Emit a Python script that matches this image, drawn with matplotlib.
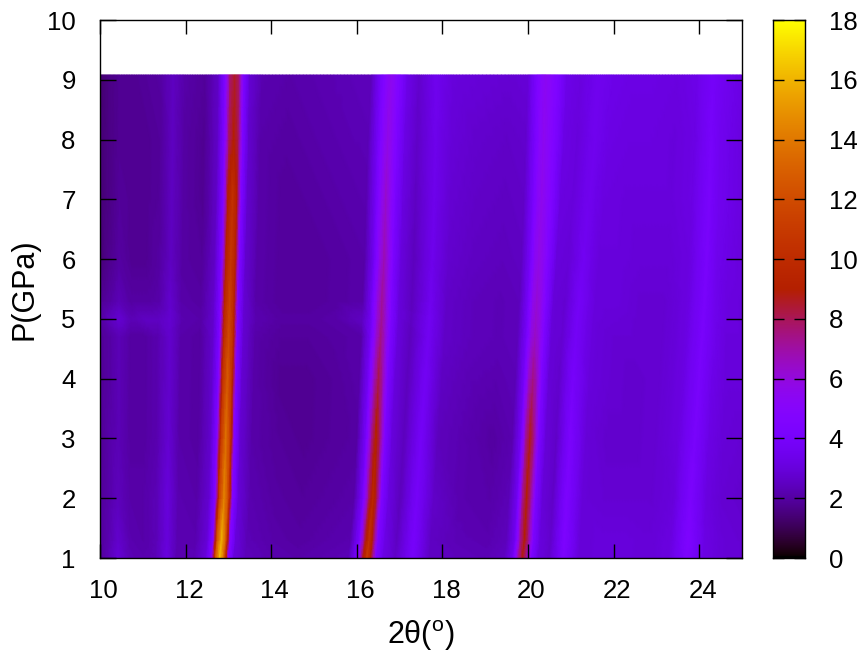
import numpy as np
import matplotlib
matplotlib.use("Agg")
import matplotlib.pyplot as plt
import matplotlib.tri as mtri
from matplotlib.transforms import ScaledTranslation

plt.rcParams["font.family"] = ["Liberation Sans", "DejaVu Sans"]
plt.rcParams["mathtext.default"] = "regular"

# pressure rows
pressure = [1.0, 1.3, 2.0, 3.0, 4.0, 4.7, 5.0, 5.3, 6.0, 7.0, 8.0, 9.08]

# positions of the ridges at each pressure row
edge_lo = [10.0] * 12
ridge_a = [11.56, 11.57, 11.58, 11.60, 11.62, 11.63, 11.64, 11.64, 11.66, 11.68, 11.70, 11.71]
peak_1 = [12.80, 12.84, 12.90, 12.94, 12.98, 13.01, 13.02, 13.03, 13.06, 13.10, 13.13, 13.15]
peak_2 = [16.24, 16.29, 16.38, 16.45, 16.51, 16.56, 16.58, 16.59, 16.64, 16.68, 16.73, 16.81]
ridge_b = [17.30, 17.33, 17.40, 17.50, 17.60, 17.67, 17.70, 17.72, 17.76, 17.80, 17.83, 17.85]
peak_3 = [19.87, 19.92, 19.97, 20.05, 20.12, 20.17, 20.19, 20.21, 20.26, 20.32, 20.37, 20.42]
ridge_c = [20.82, 20.85, 20.90, 20.98, 21.05, 21.12, 21.15, 21.20, 21.30, 21.42, 21.55, 21.65]
ridge_d = [23.70, 23.74, 23.80, 23.90, 24.00, 24.07, 24.09, 24.12, 24.17, 24.23, 24.28, 24.32]
edge_hi = [25.0] * 12

# 2theta of each column in the 1 GPa row
theta_1gpa = [10.0, 10.2, 10.42, 10.7, 11.0, 11.3, 11.56, 11.8, 12.2,
              12.47, 12.6, 12.70, 12.80, 12.90, 13.0, 13.13, 13.4,
              14.0, 14.6, 15.2, 15.8,
              16.0, 16.14, 16.24, 16.34, 16.46, 16.62, 16.9,
              17.3, 17.7, 18.3, 19.0, 19.45,
              19.65, 19.77, 19.87, 19.97, 20.09, 20.25,
              20.5, 20.82, 21.2, 21.7, 22.2, 22.8, 23.3, 23.7, 24.1, 24.5, 25.0]

# intensity along each pressure row
z_100 = [1.9, 2.3, 2.9, 2.3, 2.2, 2.3, 3.1, 2.2, 2.3, 3.0, 4.6, 12.5, 16.5, 13.0, 4.8, 3.0, 2.4, 2.2, 2.1, 2.2, 2.3,
         4.0, 8.5, 11.0, 8.5, 4.3, 3.2, 2.6, 4.0, 2.5, 2.4, 2.3, 2.5, 3.6, 7.0, 8.8, 7.0, 4.2, 3.0, 2.7, 4.3, 2.9, 3.0, 3.0, 2.9, 3.1, 4.3, 3.2, 2.9, 2.8]
z_130 = [1.9, 2.2, 2.7, 2.2, 2.1, 2.3, 3.0, 2.2, 2.2, 2.9, 4.6, 12.5, 16.0, 12.8, 4.8, 3.0, 2.3, 2.1, 2.0, 2.1, 2.2,
         4.0, 8.2, 10.5, 8.2, 4.3, 3.2, 2.5, 4.0, 2.5, 2.3, 2.2, 2.4, 3.6, 7.2, 9.0, 7.2, 4.2, 3.0, 2.7, 4.4, 2.9, 3.0, 3.0, 2.9, 3.1, 4.4, 3.2, 2.9, 2.8]
z_200 = [1.9, 2.1, 2.4, 2.1, 2.1, 2.3, 3.0, 2.2, 2.1, 2.8, 4.5, 11.5, 14.5, 11.8, 4.6, 2.9, 2.2, 2.0, 1.9, 2.0, 2.1,
         3.9, 7.8, 9.8, 7.8, 4.3, 3.1, 2.4, 3.9, 2.6, 2.2, 2.1, 2.3, 3.6, 7.2, 9.0, 7.2, 4.2, 2.9, 2.6, 4.3, 2.9, 2.8, 2.8, 2.8, 3.0, 4.2, 3.1, 2.8, 2.7]
z_300 = [1.8, 2.1, 2.3, 2.0, 2.0, 2.2, 2.8, 2.1, 2.0, 2.7, 4.4, 11.0, 13.8, 11.2, 4.5, 2.8, 2.1, 1.9, 1.8, 1.9, 2.0,
         3.8, 7.4, 9.3, 7.5, 4.3, 3.0, 2.4, 3.8, 2.4, 2.2, 2.0, 2.2, 3.7, 7.2, 8.8, 7.2, 4.2, 2.9, 2.6, 4.2, 2.9, 2.7, 2.7, 2.8, 3.1, 4.1, 3.2, 2.9, 2.8]
z_400 = [1.8, 2.0, 2.3, 2.0, 2.0, 2.2, 2.7, 2.1, 2.0, 2.7, 4.3, 10.4, 12.8, 10.4, 4.4, 2.8, 2.1, 1.8, 1.8, 1.9, 2.1,
         3.7, 6.6, 8.2, 6.7, 4.2, 3.0, 2.4, 3.7, 2.5, 2.3, 2.2, 2.3, 3.8, 6.4, 7.5, 6.4, 4.2, 2.9, 2.7, 4.0, 3.0, 2.8, 2.7, 2.8, 3.1, 4.1, 3.3, 3.0, 3.0]
z_470 = [1.8, 2.0, 2.3, 2.0, 2.0, 2.2, 2.7, 2.1, 2.0, 2.7, 4.3, 10.0, 12.0, 10.0, 4.3, 2.8, 2.1, 1.9, 1.9, 2.0, 2.1,
         3.6, 6.2, 7.5, 6.2, 4.2, 3.0, 2.4, 3.6, 2.6, 2.4, 2.3, 2.4, 3.8, 5.8, 6.5, 5.8, 4.2, 2.9, 2.8, 3.8, 3.0, 2.8, 2.8, 2.8, 3.1, 4.1, 3.4, 3.0, 3.0]
z_500 = [2.0, 2.4, 2.8, 2.3, 2.5, 2.5, 2.8, 2.2, 2.1, 2.7, 4.3, 9.8, 11.8, 9.8, 4.3, 2.8, 2.2, 2.0, 2.0, 2.1, 2.5,
         3.6, 6.1, 7.3, 6.1, 4.2, 3.0, 2.5, 3.6, 2.6, 2.4, 2.3, 2.4, 3.8, 5.7, 6.3, 5.7, 4.2, 2.9, 2.8, 3.8, 3.0, 2.9, 2.8, 2.8, 3.1, 4.1, 3.4, 3.1, 3.0]
z_530 = [1.8, 2.0, 2.3, 2.0, 2.0, 2.1, 2.7, 2.1, 2.0, 2.7, 4.3, 9.6, 11.5, 9.6, 4.3, 2.8, 2.1, 1.9, 1.9, 2.0, 2.1,
         3.6, 6.0, 7.2, 6.0, 4.2, 3.0, 2.4, 3.5, 2.6, 2.4, 2.3, 2.4, 3.8, 5.6, 6.2, 5.6, 4.2, 2.9, 2.8, 3.8, 3.0, 3.0, 2.8, 2.8, 3.1, 4.1, 3.4, 3.1, 3.0]
z_600 = [1.4, 1.7, 2.0, 1.8, 1.8, 2.0, 2.5, 2.0, 1.9, 2.6, 4.3, 9.2, 10.8, 9.3, 4.3, 2.7, 2.1, 1.9, 1.9, 2.0, 2.1,
         3.5, 5.7, 6.8, 5.7, 4.1, 3.0, 2.4, 3.4, 2.7, 2.5, 2.4, 2.5, 3.8, 5.3, 5.8, 5.3, 4.2, 3.0, 2.9, 3.6, 3.0, 3.0, 2.9, 2.9, 3.1, 4.1, 3.4, 3.2, 3.0]
z_700 = [1.4, 1.6, 1.9, 1.8, 1.8, 1.9, 2.5, 2.0, 1.8, 2.6, 4.3, 8.9, 10.5, 9.0, 4.3, 2.7, 2.1, 1.9, 2.0, 2.1, 2.2,
         3.6, 5.4, 6.4, 5.4, 4.1, 3.1, 2.5, 3.4, 2.8, 2.6, 2.5, 2.6, 3.9, 5.1, 5.6, 5.1, 4.3, 3.1, 3.0, 3.5, 3.1, 3.0, 3.0, 3.0, 3.2, 4.1, 3.5, 3.3, 3.1]
z_800 = [1.4, 1.6, 1.8, 1.8, 1.8, 1.9, 2.5, 2.0, 1.8, 2.6, 4.3, 7.9, 9.0, 8.0, 4.3, 2.7, 2.1, 2.0, 2.1, 2.2, 2.3,
         3.7, 5.1, 5.8, 5.2, 4.2, 3.2, 2.6, 3.4, 2.9, 2.7, 2.6, 2.7, 4.0, 5.0, 5.5, 5.0, 4.3, 3.2, 3.0, 3.5, 3.2, 3.1, 3.1, 3.0, 3.2, 4.0, 3.5, 3.3, 3.1]
z_910 = [1.3, 1.6, 1.8, 1.8, 1.9, 2.0, 2.5, 2.1, 1.9, 2.6, 4.3, 7.6, 8.6, 7.6, 4.3, 2.8, 2.2, 2.1, 2.2, 2.3, 2.4,
         3.9, 5.0, 5.5, 5.0, 4.3, 3.3, 2.7, 3.5, 3.0, 2.9, 2.8, 2.9, 4.2, 5.0, 5.4, 5.0, 4.4, 3.3, 3.1, 3.5, 3.3, 3.2, 3.2, 3.1, 3.3, 3.9, 3.6, 3.4, 3.2]

xticks = [10, 12, 14, 16, 18, 20, 22, 24]
yticks = [1, 2, 3, 4, 5, 6, 7, 8, 9, 10]
cticks = [0, 2, 4, 6, 8, 10, 12, 14, 16, 18]

z = np.array([z_100, z_130, z_200, z_300, z_400, z_470, z_500, z_530, z_600, z_700, z_800, z_910])
anchors = np.array([edge_lo, ridge_a, peak_1, peak_2, ridge_b, peak_3, ridge_c, ridge_d, edge_hi])

# columns follow the ridges as they drift with pressure
xs = np.array([np.interp(theta_1gpa, anchors[:, 0], anchors[:, i]) for i in range(len(pressure))])
ys = np.repeat(np.array(pressure)[:, None], len(theta_1gpa), axis=1)

nrow, ncol = z.shape
tris = []
for r in range(nrow - 1):
    for c in range(ncol - 1):
        a = r * ncol + c
        tris.append([a, a + 1, a + ncol])
        tris.append([a + 1, a + ncol + 1, a + ncol])

tri = mtri.Triangulation(xs.ravel(), ys.ravel(), np.array(tris))
refiner = mtri.UniformTriRefiner(tri)
tri2, z2 = refiner.refine_field(z.ravel(), triinterpolator=mtri.LinearTriInterpolator(tri, z.ravel()), subdiv=3)

fig = plt.figure(figsize=(8.62, 6.52), dpi=100)
W, H = 862.0, 652.0
ax = fig.add_axes([100 / W, 1 - 558 / H, 642 / W, 538 / H])
cax = fig.add_axes([773 / W, 1 - 558 / H, 32 / W, 538 / H])

ax.tripcolor(tri2, z2, shading="gouraud", cmap="gnuplot", vmin=0, vmax=18, rasterized=True)
ax.set_xlim(10, 25)
ax.set_ylim(1, 10)
ax.set_xticks(xticks)
ax.set_yticks(yticks)
ax.tick_params(axis="x", direction="in", length=10, width=1, top=True, labelsize=18.5, pad=15)
ax.tick_params(axis="y", direction="in", length=11.5, width=1, right=True, labelsize=18.5, pad=17.5)
for lab in ax.get_xticklabels():
    lab.set_transform(lab.get_transform() + ScaledTranslation(3.5 / 100, 0, fig.dpi_scale_trans))
ax.set_xlabel("2θ($^{o}$)", fontsize=22, labelpad=11)
ax.set_ylabel("P(GPa)", fontsize=22, labelpad=5)

cax.imshow(np.linspace(18, 0, 256)[:, None], cmap="gnuplot", vmin=0, vmax=18, aspect="auto", extent=[0, 1, 0, 18])
cax.set_xticks([])
cax.set_yticks(cticks)
cax.yaxis.tick_right()
cax.tick_params(axis="y", direction="in", length=8, width=1, left=True, right=True, labelsize=18.5, pad=17)

for a in (ax, cax):
    for s in a.spines.values():
        s.set_linewidth(1)

fig.savefig("out.png", dpi=100)
